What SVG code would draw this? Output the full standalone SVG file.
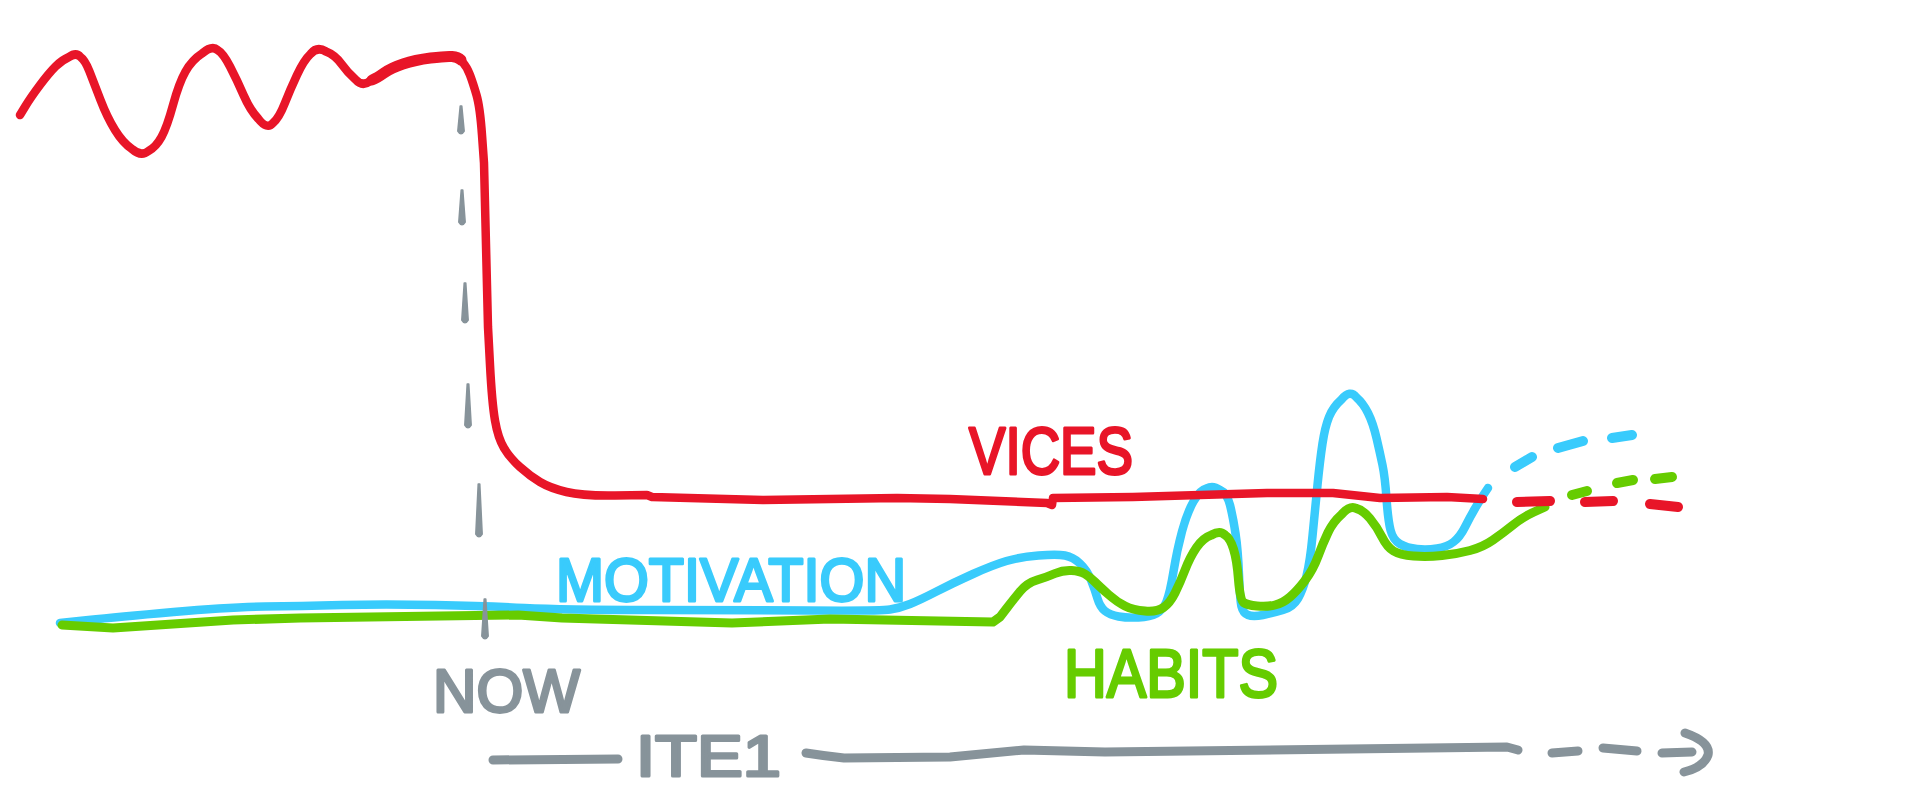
<svg xmlns="http://www.w3.org/2000/svg" width="1920" height="789" viewBox="0 0 1920 789">
<style>
.ln{fill:none;stroke-linecap:round;stroke-linejoin:round}
.red{stroke:#E81528}
.blue{stroke:#39CBFC}
.green{stroke:#66CC00}
.gray{stroke:#87939A}
.dash{fill:#87939A;stroke:#87939A;stroke-width:1.5;stroke-linejoin:round}
.lbl{font-family:"Liberation Sans","DejaVu Sans",sans-serif;font-weight:normal;stroke-width:3;stroke-linejoin:round;stroke-linecap:round}
</style>
<rect width="1920" height="789" fill="#FFFFFF"/>

<g id="motivation-curve">
<path class="ln blue" stroke-width="8.5" d="M60,623 L88.5,620 Q117,617 173.5,612 Q230,607 265,606.5 Q300,606 342,605 Q384,604 435.5,605 Q487,606 524.5,608 Q562,610 651.5,610 Q741,610 810.5,610.5 Q880,611 890,609.5 Q900,608 910,604 Q920,600 936.5,591.5 Q953,583 973,574 Q993,565 1006.5,561 Q1020,557 1038.5,555.5 Q1057,554 1065,555.5 Q1073,557 1080,563.5 Q1087,570 1091,580 Q1095,590 1097.5,598.5 Q1100,607 1105,611 Q1110,615 1118.5,616.5 Q1127,618 1138.5,617.5 Q1150,617 1156.5,613.5 Q1163,610 1166.5,601.5 Q1170,593 1173.5,571.5 Q1177,550 1182,531.5 Q1187,513 1193.5,501.5 Q1200,490 1206.5,488.5 Q1213,485 1220,490 Q1227,493 1230,505 Q1233,517 1235.5,533.5 Q1238,550 1239,575 Q1240,600 1241.5,606.5 Q1243,613 1248,615 Q1253,617 1263,615 Q1273,613 1283,610 Q1293,607 1298,598.5 Q1303,590 1306.5,576 Q1310,562 1312.5,536 Q1315,510 1317.5,485 Q1320,460 1322.5,443.5 Q1325,427 1329,417 Q1333,407 1341.5,399.5 Q1350,389 1356.5,397.5 Q1363,403 1368,413 Q1373,423 1376.5,438 Q1380,453 1382.5,465 Q1385,477 1386.5,498.5 Q1388,520 1390.5,530 Q1393,540 1400,544 Q1407,548 1417,549 Q1427,550 1437,548.5 Q1447,547 1453.5,542 Q1460,537 1465,527 Q1470,517 1475,508.5 Q1480,500 1484,494 L1488,488"/>
<path class="ln blue" stroke-width="10" d="M1515,467 L1532,457 M1558,448 L1583,441 M1612,438 L1632,435"/>
</g>

<g id="habits-curve">
<path class="ln green" stroke-width="9" d="M62,625 L113,628 L233,620 L300,618 L518,615 L562,618 L732,623 L830,619 L993,622 L1000,617 L1006.5,608.5 Q1013,600 1020,591.5 Q1027,583 1037,580 Q1047,577 1055,573.5 Q1063,570 1071.5,570.5 Q1080,571 1085,574 Q1090,577 1095,582 Q1100,587 1108.5,594.5 Q1117,602 1125,606 Q1133,610 1145,611 Q1157,612 1163.5,607.5 Q1170,603 1175,593 Q1180,583 1185,570 Q1190,557 1196.5,547.5 Q1203,538 1211.5,535 Q1220,530 1225,535 Q1230,538 1233.5,549 Q1237,560 1238.5,580 Q1240,600 1243.5,602.5 Q1247,605 1257,606 Q1267,607 1275,605 Q1283,603 1290,597 Q1297,591 1305,580.5 Q1313,570 1318,556.5 Q1323,543 1328,532.5 Q1333,522 1341.5,514.5 Q1350,505 1356.5,508.5 Q1363,510 1370,518.5 Q1377,527 1382,537 Q1387,547 1393.5,551 Q1400,555 1413.5,556 Q1427,557 1442,555.5 Q1457,554 1470,550.5 Q1483,547 1493,540 Q1503,533 1513,525 Q1523,517 1534,512 L1545,507"/>
<path class="ln green" stroke-width="10" d="M1572,495 L1587,491 M1617,483 L1633,480 M1655,479 L1672,477"/>
</g>

<g id="vices-curve">
<path class="ln red" stroke-width="8.5" d="M20,115 L25.5,106 Q31,97 40,85 Q49,73 55.5,66.5 Q62,60 69,57 Q76,52 80.5,57 Q85,60 89.5,71.5 Q94,83 100.5,100 Q107,117 115,130 Q123,143 132,149 Q141,157 148.5,151 Q156,147 161.5,137 Q167,127 173,105 Q179,83 185.5,71.5 Q192,60 202,53.5 Q212,45 217.5,50 Q223,53 230,66.5 Q237,80 243.5,95 Q250,110 258.5,119 Q267,130 273,123 Q279,118 284.5,104 Q290,90 297,75 Q304,60 310.5,54 Q317,46 326,51.5 Q335,55 341.5,64 Q348,73 355,79 Q362,87 369.5,81.5 Q377,78 384,73 Q391,68 403,64 Q415,60 430.5,58 Q446,56 452,56.5 Q458,57 462.5,62 Q467,67 470,75 Q473,83 476.5,95 Q480,107 482,135 L484,163 L488,327 L490,365 Q492,403 495,420.5 Q498,438 504,448 Q510,458 520,467 Q530,476 540,482 Q550,488 566.5,492 Q583,496 615,495.5 L647,495 L652,497 L763,500 L897,498 L950,499 L1047,503 L1052,505 L1053,498 L1133,497 L1267,493 L1333,493 L1380,498 L1447,497 L1483,499"/>
<path class="ln red" stroke-width="11" d="M372,80 Q377,78 384,73 Q391,68 403,64 Q415,60 430.5,58 Q446,56 452,56.5 Q458,57 461,60"/>
<path class="ln red" stroke-width="10" d="M1517,502 L1550,501 M1585,502 L1613,501 M1650,504 L1678,507"/>
</g>

<g id="now-marker">
<path class="dash" d="M460.2,106 L461.8,106 L464.2,131 Q461,136.5 457.8,131 Z"/>
<path class="dash" d="M461.2,190 L462.8,190 L465.2,222 Q462,227.5 458.8,222 Z"/>
<path class="dash" d="M464.2,283 L465.8,283 L468.2,320 Q465,325.5 461.8,320 Z"/>
<path class="dash" d="M467.2,384 L468.8,384 L471.2,425 Q468,430.5 464.8,425 Z"/>
<path class="dash" d="M478.2,484 L479.8,484 L482.2,534 Q479,539.5 475.8,534 Z"/>
<path class="dash" d="M484.2,599 L485.8,599 L488.2,636 Q485,641.5 481.8,636 Z"/>
</g>

<g id="timeline">
<path class="ln gray" stroke-width="9" d="M493,760 L618,759"/>
<path class="ln gray" stroke-width="9" d="M806,753 Q825,756 844,758 L950,757 L1024,750 L1105,752 L1507,747 L1518,750"/>
<path class="ln gray" stroke-width="9" d="M1552,753 L1578,751 M1603,748 L1637,751 M1662,753 L1692,752"/>
<path class="ln gray" stroke-width="9" d="M1685,733 Q1711,742 1708,755 Q1704,767 1684,772"/>
</g>

<g id="labels">
<text id="label-motivation" class="lbl" x="556" y="601" font-size="62" textLength="350" lengthAdjust="spacingAndGlyphs" fill="#39CBFC" stroke="#39CBFC">MOTIVATION</text>
<text id="label-vices" class="lbl" x="969" y="474" font-size="66" textLength="164" lengthAdjust="spacingAndGlyphs" fill="#E81528" stroke="#E81528">VICES</text>
<text id="label-habits" class="lbl" x="1064" y="697" font-size="68" textLength="214" lengthAdjust="spacingAndGlyphs" fill="#66CC00" stroke="#66CC00">HABITS</text>
<text id="label-now" class="lbl" x="433" y="712" font-size="62" textLength="147" lengthAdjust="spacingAndGlyphs" fill="#87939A" stroke="#87939A">NOW</text>
<text id="label-ite1" class="lbl" x="636" y="776" font-size="58" textLength="145" lengthAdjust="spacingAndGlyphs" fill="#87939A" stroke="#87939A">ITE1</text>
</g>
</svg>
